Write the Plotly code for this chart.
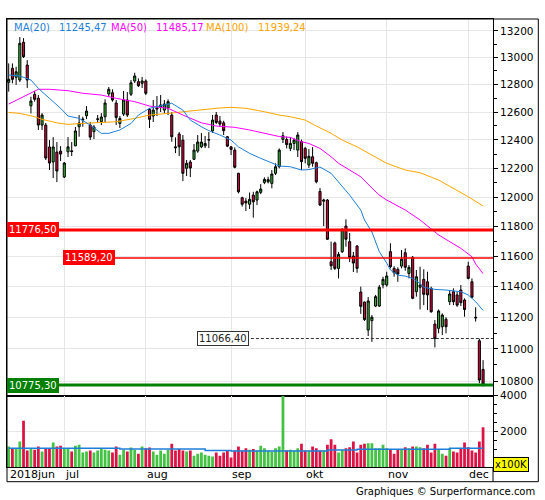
import numpy as np
import pandas as pd
import plotly.graph_objects as go
from plotly.subplots import make_subplots

# seances affichees (Xetra, ferme le 3 octobre)
jours = pd.bdate_range("2018-06-11", "2018-12-07")
jours = jours[jours != pd.Timestamp("2018-10-03")]
idx = np.arange(len(jours))
mois = ["2018jun", "jul", "aug", "sep", "okt", "nov", "dec"]

ouverture = [12816, 12920, 12853, 12833, 13114, 12944, 12645, 12729, 12700, 12506,
             12506, 12350, 12244, 12314, 12321, 12139, 12316, 12323, 12358, 12494,
             12542, 12573, 12506, 12459, 12547, 12530, 12566, 12731, 12740, 12665,
             12518, 12585, 12687, 12729, 12826, 12821, 12809, 12826, 12619, 12571,
             12621, 12634, 12614, 12629, 12578, 12351, 12442, 12399, 12200, 12244,
             12263, 12321, 12351, 12358, 12399, 12464, 12578, 12535, 12522, 12423,
             12351, 12328, 12165, 11996, 11973, 11951, 12014, 11980, 12033, 12102,
             12106, 12095, 12165, 12211, 12404, 12403, 12340, 12375, 12328, 12388,
             12340, 12223, 12281, 12239, 12040, 11972, 11980, 11564, 11689, 11520,
             11631, 11803, 11698, 11602, 11669, 11365, 11300, 11120, 11180, 11274,
             11274, 11411, 11411, 11631, 11520, 11514, 11535, 11624, 11487, 11593,
             11367, 11396, 11448, 11432, 11389, 11158, 11131, 11141, 11189, 11302,
             11367, 11346, 11378, 11313, 11535, 11432, 11202, 11052, 10872]
haut = [12956, 12956, 12931, 13153, 13145, 12981, 12711, 12753, 12723, 12592,
        12521, 12399, 12420, 12385, 12356, 12244, 12420, 12385, 12492, 12578,
        12566, 12643, 12528, 12506, 12578, 12592, 12692, 12782, 12765, 12687,
        12571, 12753, 12745, 12833, 12887, 12845, 12856, 12838, 12629, 12687,
        12716, 12723, 12687, 12692, 12600, 12418, 12456, 12435, 12258, 12258,
        12371, 12435, 12449, 12428, 12456, 12578, 12600, 12571, 12537, 12428,
        12356, 12347, 12169, 12003, 11994, 12032, 12037, 12045, 12090, 12137,
        12141, 12188, 12235, 12340, 12456, 12424, 12420, 12413, 12456, 12403,
        12351, 12335, 12349, 12247, 12063, 11989, 11987, 11698, 11698, 11629,
        11788, 11849, 11756, 11629, 11675, 11400, 11303, 11333, 11216, 11346,
        11411, 11465, 11498, 11687, 11535, 11527, 11642, 11653, 11542, 11602,
        11509, 11531, 11514, 11498, 11400, 11184, 11252, 11227, 11202, 11378,
        11389, 11367, 11411, 11324, 11564, 11454, 11266, 11066, 10930]
bas = [12748, 12809, 12797, 12818, 12996, 12775, 12590, 12675, 12471, 12471,
       12258, 12188, 12132, 12104, 12251, 12132, 12279, 12286, 12356, 12423,
       12494, 12549, 12399, 12406, 12522, 12506, 12528, 12711, 12675, 12506,
       12485, 12571, 12564, 12716, 12811, 12782, 12775, 12723, 12485, 12528,
       12571, 12600, 12592, 12578, 12387, 12307, 12286, 12111, 12146, 12139,
       12258, 12309, 12342, 12342, 12342, 12449, 12513, 12492, 12435, 12349,
       12293, 12200, 12026, 11935, 11905, 11919, 11860, 11946, 12021, 12090,
       12095, 12061, 12153, 12200, 12378, 12340, 12321, 12328, 12279, 12188,
       12235, 12202, 12211, 12095, 11939, 11803, 11709, 11509, 11509, 11454,
       11622, 11664, 11562, 11496, 11491, 11224, 11178, 11082, 11045, 11267,
       11269, 11389, 11400, 11520, 11465, 11432, 11520, 11505, 11454, 11318,
       11335, 11252, 11280, 11248, 11231, 11010, 11099, 11088, 11099, 11280,
       11280, 11269, 11274, 11205, 11448, 11324, 11174, 10786, 10766]
cloture = [12838, 12838, 12894, 13106, 13006, 12833, 12680, 12692, 12506, 12578,
           12272, 12237, 12350, 12181, 12300, 12237, 12351, 12318, 12464, 12521,
           12548, 12607, 12420, 12492, 12550, 12564, 12665, 12765, 12687, 12561,
           12554, 12687, 12578, 12813, 12863, 12791, 12826, 12736, 12547, 12614,
           12629, 12651, 12658, 12675, 12423, 12345, 12351, 12165, 12235, 12202,
           12328, 12385, 12385, 12375, 12402, 12542, 12525, 12513, 12466, 12356,
           12333, 12207, 12037, 11951, 11960, 11985, 11968, 12037, 12056, 12123,
           12121, 12160, 12211, 12328, 12430, 12367, 12375, 12399, 12435, 12247,
           12270, 12284, 12235, 12106, 11946, 11980, 11714, 11537, 11520, 11613,
           11781, 11714, 11593, 11555, 11520, 11272, 11187, 11307, 11202, 11335,
           11396, 11448, 11470, 11531, 11491, 11483, 11580, 11527, 11527, 11324,
           11465, 11411, 11350, 11346, 11237, 11066, 11242, 11216, 11141, 11352,
           11302, 11280, 11296, 11252, 11454, 11331, 11198, 10806, 10781]
# volume en x100K
volume = [1150, 1060, 1060, 1430, 2600, 930, 1060, 970, 1150, 870,
          1060, 1060, 1375, 1150, 1190, 1005, 1005, 870, 1190, 1245,
          815, 870, 930, 815, 930, 1060, 970, 930, 815, 1150,
          690, 970, 870, 1095, 970, 745, 1150, 1060, 1095, 870,
          690, 930, 745, 970, 1300, 930, 1005, 930, 870, 930,
          630, 745, 815, 690, 630, 590, 815, 630, 815, 930,
          540, 930, 1150, 930, 1060, 970, 1005, 930, 1190, 1060,
          930, 870, 1060, 1150, 4100, 930, 970, 930, 1060, 1300,
          930, 930, 1150, 1060, 930, 930, 1245, 1565, 1245, 815,
          970, 1060, 1115, 1430, 815, 1245, 1300, 1340, 1340, 1060,
          1060, 1245, 1060, 1005, 745, 970, 1005, 1115, 1060, 1150,
          1150, 1115, 1060, 1245, 815, 1300, 970, 745, 630, 1060,
          870, 815, 1060, 1375, 1115, 930, 815, 1430, 2235]

# moyennes mobiles (seance, valeur)
ma20_pos = [0, 3, 6, 8, 11, 14, 16, 19, 22, 25, 27, 30, 33, 35, 38, 41, 43, 44, 47, 49,
            52, 54, 57, 60, 62, 65, 68, 71, 73, 76, 79, 81, 84, 87, 89, 92, 95, 96, 98,
            100, 102, 103, 105, 107, 109, 111, 112, 115, 118, 120, 122, 124, 126, 128]
ma20 = [12870, 12863, 12833, 12772, 12699, 12627, 12571, 12554, 12506, 12447, 12447,
        12471, 12518, 12578, 12627, 12643, 12658, 12663, 12614, 12542, 12494, 12466,
        12435, 12399, 12351, 12305, 12270, 12235, 12216, 12211, 12188, 12191, 12209,
        12165, 12104, 12014, 11912, 11844, 11763, 11631, 11555, 11509, 11476, 11469,
        11454, 11421, 11396, 11382, 11378, 11373, 11367, 11346, 11302, 11245.47]
ma50_pos = [0, 3, 6, 8, 11, 16, 20, 25, 29, 34, 38, 43, 47, 52, 56, 61, 65, 70, 73, 76,
            79, 81, 84, 87, 89, 92, 95, 98, 100, 102, 107, 111, 114, 116, 119, 122, 125,
            126, 128]
ma50 = [12658, 12699, 12736, 12765, 12765, 12755, 12736, 12723, 12699, 12675, 12643,
        12627, 12578, 12522, 12499, 12490, 12471, 12442, 12424, 12418, 12387, 12375,
        12340, 12281, 12235, 12188, 12141, 12063, 12014, 11980, 11912, 11844, 11787,
        11743, 11698, 11653, 11597, 11549, 11485.17]
ma100_pos = [0, 3, 7, 9, 13, 16, 20, 25, 29, 34, 38, 43, 47, 52, 56, 60, 64, 69, 73, 76,
             80, 83, 87, 90, 94, 98, 102, 107, 111, 116, 120, 124, 128]
ma100 = [12597, 12590, 12566, 12547, 12522, 12511, 12518, 12522, 12530, 12554, 12578,
         12590, 12602, 12614, 12627, 12634, 12627, 12602, 12578, 12566, 12542, 12499,
         12447, 12399, 12351, 12293, 12235, 12188, 12169, 12118, 12061, 12003, 11939.24]
vol_ma_pos = [0, 30, 53, 60, 86, 94, 119, 128]
vol_ma = [1060, 1005, 930, 895, 960, 1000, 1060, 1060]

niv_r1 = 11776.50
niv_r2 = 11589.20
niv_plus_haut = 11066.40
niv_s1 = 10775.30

VERT = "#36b336"
ROUGE = "#d5003b"
BLEU = "#1f7fd8"
GRILLE = "#e6e6e6"

x_min, x_max = -0.46, 130.68
px = lambda p: (p - 7) / 486.0     # pixel -> coord papier (x)
py = lambda p: (467 - p) / 448.0   # pixel -> coord papier (y)

fig = make_subplots(rows=2, cols=1, shared_xaxes=True, vertical_spacing=0,
                    row_heights=[0.841, 0.159])

fig.add_trace(go.Candlestick(
    x=idx, open=ouverture, high=haut, low=bas, close=cloture,
    increasing=dict(line=dict(color="black", width=1), fillcolor=VERT),
    decreasing=dict(line=dict(color="black", width=1), fillcolor=ROUGE),
    whiskerwidth=0), row=1, col=1)

for pos, val, coul in [(ma100_pos, ma100, "#ffa500"), (ma50_pos, ma50, "#ff00ff"),
                       (ma20_pos, ma20, BLEU)]:
    fig.add_trace(go.Scatter(x=pos, y=val, mode="lines",
                             line=dict(color=coul, width=1)), row=1, col=1)

# niveaux horizontaux
fig.add_trace(go.Scatter(x=[x_min, x_max], y=[niv_r1, niv_r1], mode="lines",
                         line=dict(color="#ff0000", width=3)), row=1, col=1)
fig.add_trace(go.Scatter(x=[28.1, x_max], y=[niv_r2, niv_r2], mode="lines",
                         line=dict(color="#ff0000", width=1.5)), row=1, col=1)
fig.add_trace(go.Scatter(x=[64, x_max], y=[niv_plus_haut, niv_plus_haut], mode="lines",
                         line=dict(color="#333333", width=1, dash="3px,2px")), row=1, col=1)
fig.add_trace(go.Scatter(x=[x_min, x_max], y=[niv_s1, niv_s1], mode="lines",
                         line=dict(color="#008000", width=3)), row=1, col=1)

couleurs_vol = ["#44c244" if c >= o else "#dc1446" for o, c in zip(ouverture, cloture)]
fig.add_trace(go.Bar(x=idx, y=volume, marker=dict(color=couleurs_vol, line_width=0)),
              row=2, col=1)
fig.add_trace(go.Scatter(x=vol_ma_pos, y=vol_ma, mode="lines", line_shape="hv",
                         line=dict(color=BLEU, width=1.5)), row=2, col=1)

debuts = [0] + [i for i in range(1, len(jours)) if jours[i].month != jours[i - 1].month]

axe_x = dict(range=[x_min, x_max], tickvals=debuts[1:], showgrid=True, gridcolor=GRILLE,
             showticklabels=False, ticks="", showline=True, mirror=True,
             linecolor="black", linewidth=1, zeroline=False)
fig.update_xaxes(**axe_x)

niv_y = list(range(10800, 13201, 200))
fig.update_yaxes(type="log", range=[4.02975, 4.12352], side="right",
                 tickvals=niv_y, ticktext=[str(v) for v in niv_y],
                 showgrid=True, gridcolor=GRILLE, ticks="outside", ticklen=4,
                 tickcolor="black", showline=True, mirror=True, linecolor="black",
                 zeroline=False,
                 minor=dict(tickvals=list(range(10900, 13200, 200)), ticks="outside",
                            ticklen=3, tickcolor="black", showgrid=False),
                 row=1, col=1)
fig.update_yaxes(range=[0, 4000], side="right", tickvals=[2000, 4000],
                 ticktext=["2000", "4000"], showgrid=True, gridcolor=GRILLE,
                 ticks="outside", ticklen=4, tickcolor="black", showline=True,
                 mirror=True, linecolor="black", zeroline=False,
                 minor=dict(tickvals=[500, 1000, 1500, 2500, 3000, 3500], ticks="outside",
                            ticklen=3, tickcolor="black", showgrid=False),
                 row=2, col=1)

annots = []
# legende des moyennes mobiles
for x_pix, txt, coul in [(12, "MA(20)", BLEU), (57, "11245,47", BLEU),
                         (109, "MA(50)", "#ff00ff"), (154, "11485,17", "#ff00ff"),
                         (204, "MA(100)", "#ffa500"), (256, "11939,24", "#ffa500")]:
    annots.append(dict(xref="paper", yref="paper", x=px(x_pix), y=py(28), text=txt,
                       showarrow=False, xanchor="left", yanchor="middle",
                       font=dict(color=coul, size=10)))

# etiquettes des niveaux
for x_pix, val, fond, bord, coul in [(7, niv_r1, "#ff0000", "#ff0000", "white"),
                                     (63, niv_r2, "#ff0000", "#ff0000", "white"),
                                     (197, niv_plus_haut, "white", "#333333", "#222222"),
                                     (7, niv_s1, "#008000", "#008000", "white")]:
    annots.append(dict(xref="paper", yref="y", x=px(x_pix), y=np.log10(val),
                       text=f"{val:.2f}".replace(".", ","), showarrow=False,
                       xanchor="left", yanchor="middle", bgcolor=fond, bordercolor=bord,
                       borderwidth=1, borderpad=1, font=dict(color=coul, size=10)))

# mois
for i, m in zip(debuts, mois):
    annots.append(dict(xref="x2", yref="paper", x=i, y=py(474.5), text=m, showarrow=False,
                       xanchor="left", yanchor="middle", xshift=-1,
                       font=dict(size=11, color="black")))

annots.append(dict(xref="paper", yref="paper", x=px(493), y=py(464), text="x100K",
                   showarrow=False, xanchor="left", yanchor="middle",
                   bgcolor="#ffff00", bordercolor="black", borderwidth=1,
                   borderpad=1, font=dict(size=10, color="black")))
annots.append(dict(xref="paper", yref="paper", x=px(537), y=py(491.5),
                   text="Graphiques © Surperformance.com", showarrow=False,
                   xanchor="right", yanchor="middle", font=dict(size=10, color="black")))

fig.update_layout(
    width=545, height=500,
    margin=dict(l=7, r=52, t=19, b=33),
    paper_bgcolor="white", plot_bgcolor="white",
    showlegend=False, bargap=0.25, boxgap=0.2,
    font=dict(family="DejaVu Sans", size=10.5, color="black"),
    xaxis_rangeslider_visible=False,
    annotations=annots,
    shapes=[
        dict(type="rect", xref="paper", yref="paper", x0=0, x1=px(538.3),
             y0=py(481.7), y1=1, line=dict(color="black", width=1)),
        dict(type="line", xref="paper", yref="paper", x0=1, x1=1,
             y0=py(481.7), y1=0, line=dict(color="black", width=1)),
    ],
)

# la page a une marge de 8px par defaut : on la retire
fig.write_html("out.html", config={"displayModeBar": False},
               post_script="document.body.style.margin='0px';")
